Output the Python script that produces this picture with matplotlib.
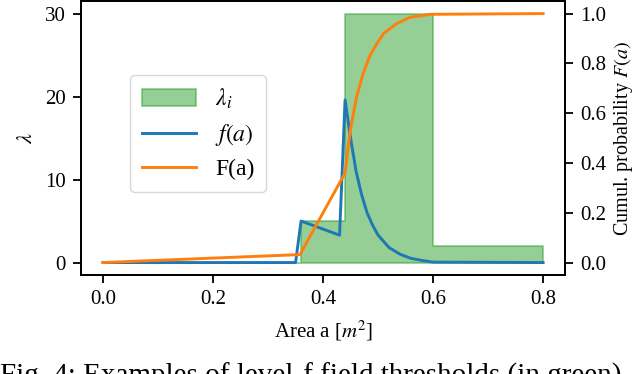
import numpy as np
import matplotlib
matplotlib.use("Agg")
import matplotlib.pyplot as plt

plt.rcParams['font.family'] = ['Liberation Serif', 'DejaVu Serif']
plt.rcParams['mathtext.fontset'] = 'stix'
plt.rcParams['font.size'] = 15
plt.rcParams['axes.linewidth'] = 1.3
for ax_name in ['xtick', 'ytick']:
    plt.rcParams[ax_name + '.major.size'] = 6
    plt.rcParams[ax_name + '.major.width'] = 1.3
    plt.rcParams[ax_name + '.major.pad'] = 5

# step thresholds lambda_i (value holds from edge to next edge)
lam_edges = [0.0, 0.36, 0.44, 0.60, 0.80]
lam_values = [0.0, 5.0, 30.0, 2.0, 2.0]

# density f(a)
f_a = [0.0, 0.35, 0.36, 0.43, 0.44, 0.45, 0.46, 0.47, 0.48, 0.49, 0.50,
       0.52, 0.54, 0.56, 0.58, 0.60, 0.80]
f_val = [0.0, 0.0, 5.0, 3.3, 19.6, 15.0, 11.0, 8.2, 6.0, 4.5, 3.3,
         1.8, 1.0, 0.5, 0.25, 0.05, 0.0]

# cumulative F(a)
F_a = [0.0, 0.358, 0.44, 0.449, 0.461, 0.473, 0.485, 0.498, 0.51, 0.534,
       0.558, 0.595, 0.80]
F_val = [0.0, 0.032, 0.36, 0.525, 0.667, 0.76, 0.83, 0.88, 0.92, 0.96,
         0.985, 0.997, 1.0]

fig = plt.figure(figsize=(6.4, 3.74), dpi=100)
ax = fig.add_axes([0.1266, 0.2647, 0.7564, 0.7323])

ax.fill_between(lam_edges, lam_values, step='post', color='C2', alpha=0.5,
                linewidth=1.3, label=r'$\lambda_i$')
ax.plot(f_a, f_val, color='C0', lw=2.1, label=r'$f(a)$')
ax.set_xlim(-0.04, 0.84)
ax.set_ylim(-1.5, 31.5)
ax.set_xticks([0.0, 0.2, 0.4, 0.6, 0.8])
ax.set_yticks([0, 10, 20, 30])
ax.set_xlabel(r'Area a [$m^2$]', labelpad=7)
ax.set_ylabel(r'$\lambda$', labelpad=6, fontsize=16)

ax2 = ax.twinx()
ax2.plot(F_a, F_val, color='C1', lw=2.1, label='F(a)')
ax2.set_ylim(-0.05, 1.05)
ax2.set_yticks([0.0, 0.2, 0.4, 0.6, 0.8, 1.0])
ax2.set_ylabel(r'Cumul. probability $F(a)$', fontsize=14.5, labelpad=4)

h1, l1 = ax.get_legend_handles_labels()
h2, l2 = ax2.get_legend_handles_labels()
ax2.legend(h1 + h2, l1 + l2, loc='upper left', bbox_to_anchor=(0.101, 0.73),
           borderaxespad=0, fontsize=17, handlelength=2.3, borderpad=0.5,
           labelspacing=0.45)

fig.text(0.0, 1 - 363 / 374, 'Fig. 4: Examples of level-f field thresholds (in green)',
         fontsize=21, va='top', ha='left')

fig.savefig('out.png', dpi=100)
